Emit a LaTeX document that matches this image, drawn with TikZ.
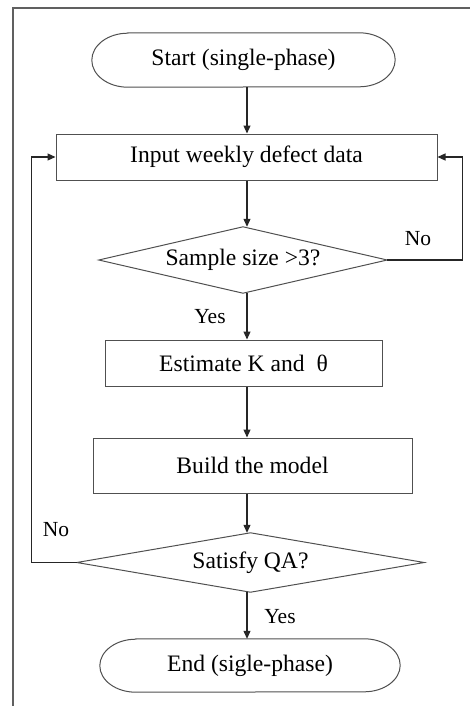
\documentclass[tikz,border=0pt]{standalone}
\usepackage{fontspec}
\setmainfont{Liberation Serif}
\usetikzlibrary{arrows.meta,calc}

\definecolor{edgegray}{HTML}{505050}
\definecolor{framegray}{HTML}{606060}

\tikzset{
  every node/.style={font=\fontsize{23.6}{26}\selectfont, inner sep=0pt},
  procbox/.style={rectangle, draw=edgegray, line width=1pt},
  holder/.style={rectangle, draw=none},
  outline/.style={draw=edgegray, line width=1pt},
  flow/.style={draw=black!85, line width=1.1pt, -{Triangle[length=8pt,width=7pt]}},
  tag/.style={font=\fontsize{21.5}{24}\selectfont},
  framing/.style={draw=framegray, line width=1.2pt}
}

\begin{document}
\begin{tikzpicture}[x=1pt,y=1pt]
  \useasboundingbox (0,0) rectangle (470,-706);

  % outer frame (top and left edges)
  \draw[framing] (13,-706) -- (13,-8) -- (470,-8);

  % x position of the main vertical flow
  \coordinate (spine) at (247,0);

  % terminals
  \node[holder, minimum width=303pt, minimum height=54pt] (start) at (243.5,-60) {Start (single-phase)};
  \node[holder, minimum width=300pt, minimum height=53pt] (finish) at (250,-665.5) {End (sigle-phase)};

  % process boxes
  \node[procbox, minimum width=381pt, minimum height=46pt] (input) at (246.5,-157) {Input weekly defect data};
  \node[procbox, minimum width=277pt, minimum height=46pt] (estim) at (243.5,-363) {Estimate K and\ \ θ};
  \node[procbox, minimum width=319pt, minimum height=55pt] (build) at (252.5,-465.5) {Build the model};

  % decisions
  \node[holder, minimum width=288pt, minimum height=66pt] (dsize) at (243,-260) {Sample size >3?};
  \node[holder, minimum width=347pt, minimum height=59pt] (dqa) at (250.5,-562.5) {Satisfy QA?};

  % terminal outlines with elliptical ends
  \draw[outline] ($(start.north west)+(36pt,0)$) -- ($(start.north east)+(-36pt,0)$)
     arc[start angle=90, end angle=-90, x radius=36pt, y radius=27pt]
     -- ($(start.south west)+(36pt,0)$)
     arc[start angle=270, end angle=90, x radius=36pt, y radius=27pt] -- cycle;
  \draw[outline] ($(finish.north west)+(36pt,0)$) -- ($(finish.north east)+(-36pt,0)$)
     arc[start angle=90, end angle=-90, x radius=36pt, y radius=26.5pt]
     -- ($(finish.south west)+(36pt,0)$)
     arc[start angle=270, end angle=90, x radius=36pt, y radius=26.5pt] -- cycle;

  % decision outlines
  \draw[outline] (dsize.west) -- (dsize.north) -- (dsize.east) -- (dsize.south) -- cycle;
  \draw[outline] (dqa.west) -- (dqa.north) -- (dqa.east) -- (dqa.south) -- cycle;

  % main flow
  \draw[flow] (start.south -| spine) -- (input.north -| spine);
  \draw[flow] (input.south -| spine) -- (dsize.north -| spine);
  \draw[flow] (dsize.south -| spine) -- (estim.north -| spine);
  \draw[flow] (estim.south -| spine) -- (build.north -| spine);
  \draw[flow] (build.south -| spine) -- (dqa.north -| spine);
  \draw[flow] (dqa.south -| spine) -- (finish.north -| spine);

  % loops back to the input step
  \draw[flow] (dsize.east) -- ++(75,0) |- (input.east);
  \draw[flow] (dqa.west) -- ++(-45,0) |- (input.west);

  % branch labels
  \node[tag] (noA) at (418,-239) {No};
  \node[tag] (yesA) at (210,-317) {Yes};
  \node[tag] (noB) at (56,-530) {No};
  \node[tag] (yesB) at (280,-617) {Yes};
\end{tikzpicture}
\end{document}
